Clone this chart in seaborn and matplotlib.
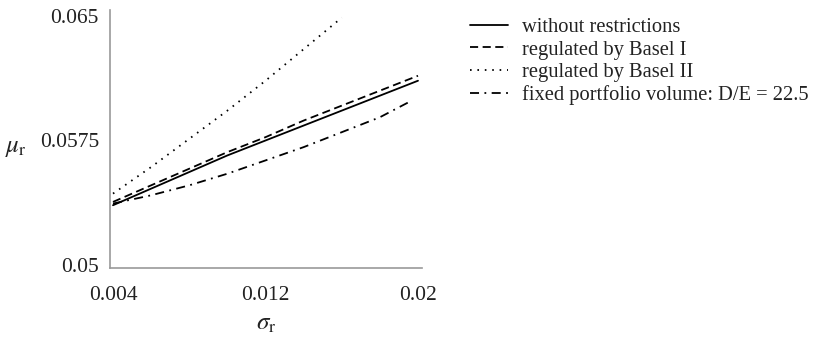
import matplotlib
matplotlib.use("Agg")
import matplotlib.pyplot as plt
import seaborn as sns
import pandas as pd

# Efficient frontiers: expected return mu_r against risk sigma_r
sigma_free = [0.004, 0.006, 0.008, 0.010, 0.012, 0.014, 0.016, 0.018, 0.020]
mu_free = [0.0536, 0.0546, 0.0556, 0.0566, 0.0575, 0.0584, 0.0593, 0.0602, 0.0611]

sigma_basel1 = [0.004, 0.006, 0.008, 0.010, 0.012, 0.014, 0.016, 0.018, 0.020]
mu_basel1 = [0.0538, 0.0548, 0.0558, 0.0568, 0.0577, 0.0587, 0.0596, 0.0605, 0.0614]

sigma_basel2 = [0.004, 0.006, 0.008, 0.010, 0.012, 0.014, 0.016]
mu_basel2 = [0.0543, 0.0559, 0.0576, 0.0593, 0.0611, 0.0630, 0.0649]

sigma_fixed = [0.004, 0.006, 0.008, 0.010, 0.012, 0.014, 0.016, 0.018, 0.0195]
mu_fixed = [0.0537, 0.0542, 0.0548, 0.0555, 0.0563, 0.0571, 0.0580, 0.0589, 0.0598]

labels = ["without restrictions", "regulated by Basel I",
          "regulated by Basel II", "fixed portfolio volume: D/E = 22.5"]
x_ticks = [0.004, 0.012, 0.02]
x_tick_labels = ["0.004", "0.012", "0.02"]
y_ticks = [0.05, 0.0575, 0.065]
y_tick_labels = ["0.05", "0.0575", "0.065"]

sns.set_style("white")
plt.rcParams["font.family"] = ["Liberation Serif", "DejaVu Serif"]
plt.rcParams["mathtext.fontset"] = "stix"

fig = plt.figure(figsize=(8.16, 3.37), dpi=100)
ax = fig.add_axes([110 / 816, 69 / 337, 312 / 816, 258 / 337])

series = [
    (sigma_free, mu_free, "-"),
    (sigma_basel1, mu_basel1, (0, (4.5, 2.5))),
    (sigma_basel2, mu_basel2, (0, (0.9, 3.2))),
    (sigma_fixed, mu_fixed, (0, (5, 3, 1, 3))),
]
for (xs, ys, ls), lab in zip(series, labels):
    df = pd.DataFrame({"sigma": xs, "mu": ys})
    sns.lineplot(data=df, x="sigma", y="mu", ax=ax, color="black",
                 linestyle=ls, linewidth=1.3, label=lab)

ax.set_xlim(0.003843, 0.02021)
ax.set_ylim(0.04982, 0.06536)
ax.set_xticks(x_ticks)
ax.set_xticklabels(x_tick_labels)
ax.set_yticks(y_ticks)
ax.set_yticklabels(y_tick_labels)
ax.tick_params(axis="both", labelsize=15.5, direction="in", length=3,
               width=0.8, color="#999999", labelcolor="#222222")
ax.tick_params(axis="x", pad=13)
ax.tick_params(axis="y", pad=8)

for side in ("top", "right"):
    ax.spines[side].set_visible(False)
for side in ("left", "bottom"):
    ax.spines[side].set_color("#999999")
    ax.spines[side].set_linewidth(1.2)

ax.set_xlabel(r"$\sigma_{\mathrm{r}}$", fontsize=18, labelpad=6, color="#222222")
ax.set_ylabel(r"$\mu_{\mathrm{r}}$", fontsize=18, rotation=0, va="center",
              color="#222222")
ax.yaxis.set_label_coords(-0.30, 0.466)

handles, labs = ax.get_legend_handles_labels()
ax.get_legend().remove()
leg = fig.legend(handles, labs, loc="upper left",
                 bbox_to_anchor=(470 / 816, 1 - 18 / 337), frameon=False,
                 fontsize=14.8, handlelength=1.85, handletextpad=0.68,
                 labelspacing=0.14, borderaxespad=0, borderpad=0)
for t in leg.get_texts():
    t.set_color("#222222")

fig.savefig("out.png", dpi=100)
